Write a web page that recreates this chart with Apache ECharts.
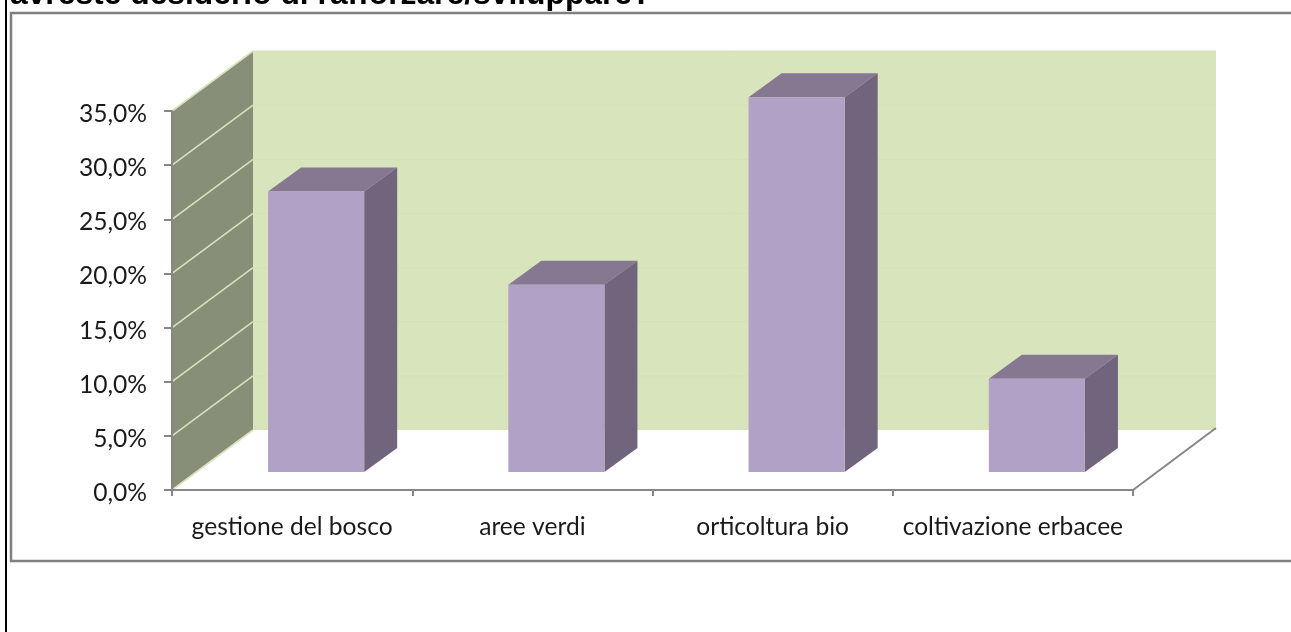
<!DOCTYPE html>
<html>
<head>
<meta charset="utf-8">
<style>html,body{margin:0;padding:0;background:#fff}#c{width:1291px;height:632px}</style>
<script src="https://cdn.jsdelivr.net/npm/echarts@6/dist/echarts.min.js"></script>
</head>
<body>
<div id="c"></div>
<script>
const headingText = "avreste desiderio di rafforzare/sviluppare?";
const categories = ["gestione del bosco", "aree verdi", "orticoltura bio", "coltivazione erbacee"];
const shareValues = [25.9, 17.3, 34.6, 8.6];
const gridValues = [0, 5, 10, 15, 20, 25, 30, 35];

const wallDepth = [81, -60];
const backWallExtra = 2;
const barOffset = [24, -18];
const barDepth = [33, -24];
const barWidthShare = 0.4;
const font = "Lato";

const chart = echarts.init(document.getElementById("c"), null, {renderer: "canvas"});
const poly = (pts, fill, z2) => ({type: "polygon", shape: {points: pts}, style: {fill}, z2: z2 || 0});
const seg = (a, b, stroke, w, z2) => ({type: "line", shape: {x1: a[0], y1: a[1], x2: b[0], y2: b[1]}, style: {stroke, lineWidth: w}, z2: z2 || 1, silent: true});
const shift = (p, d) => [p[0] + d[0], p[1] + d[1]];

function renderWalls(params, api) {
  if (params.dataIndex !== 0) return {type: "group", children: []};
  const cs = params.coordSys;
  const x0 = cs.x, x1 = cs.x + cs.width;
  const y = v => api.coord([0, v])[1];
  const base = y(0), top = y(35);
  const kids = [];
  const wide = [wallDepth[0] + backWallExtra, wallDepth[1]];
  kids.push(poly([shift([x0, top], wallDepth), shift([x1, top], wide), shift([x1, base], wide), shift([x0, base], wallDepth)], "#d7e4bc", 0));
  kids.push(poly([[x0, top], shift([x0, top], wallDepth), shift([x0, base], wallDepth), [x0, base]], "#888f78", 1));
  gridValues.forEach(v => {
    const p = [x0, y(v)], q = shift(p, wallDepth);
    const r = [x1, y(v)];
    kids.push(seg(p, q, "#d6e3bb", 1.6, 2));
    if (v > 0) kids.push(seg(q, shift(r, wide), "#d3e0b8", 1, 1));
  });
  kids.push(seg([x1, base], shift([x1, base], [83, -62]), "#868686", 2, 3));
  return {type: "group", children: kids};
}

function renderBar(params, api) {
  const cat = api.value(0), val = api.value(1);
  const c0 = api.coord([cat, 0]), c1 = api.coord([cat, val]);
  const w = api.size([1, 0])[0] * barWidthShare;
  const bl = shift([c0[0] - w / 2, c0[1]], barOffset);
  const br = shift([c0[0] + w / 2, c0[1]], barOffset);
  const tl = shift([c1[0] - w / 2, c1[1]], barOffset);
  const tr = shift([c1[0] + w / 2, c1[1]], barOffset);
  return {type: "group", children: [
    poly([tl, tr, shift(tr, barDepth), shift(tl, barDepth)], "#867891", 10),
    poly([tr, br, shift(br, barDepth), shift(tr, barDepth)], "#71657e", 10),
    poly([tl, tr, br, bl], "#b2a1c7", 11)
  ]};
}

chart.setOption({
  animation: false,
  backgroundColor: "#fff",
  title: {text: headingText, left: 10, top: -21, padding: 0, textStyle: {fontFamily: "Liberation Sans", fontWeight: "bold", fontSize: 31.8, color: "#000"}},
  grid: {left: 172, right: 158, top: 111, bottom: 142, containLabel: false},
  xAxis: {
    type: "category", data: categories, boundaryGap: true, z: 5,
    axisLine: {lineStyle: {color: "#868686", width: 2}},
    axisTick: {show: true, alignWithLabel: false, length: 6, lineStyle: {color: "#868686", width: 2}},
    axisLabel: {interval: 0, margin: 25, color: "#1a1a1a", fontFamily: font, fontSize: 24.6}
  },
  yAxis: {
    type: "value", min: 0, max: 35, interval: 5, z: 5,
    axisLine: {show: true, lineStyle: {color: "#868686", width: 2}},
    axisTick: {show: true, length: 8, lineStyle: {color: "#868686", width: 2}},
    splitLine: {show: false},
    axisLabel: {
      margin: 25, color: "#1a1a1a", fontFamily: font, fontSize: 24.6,
      formatter: v => "{v|" + v.toFixed(1).replace(".", ",") + "%}",
      rich: {v: {padding: [6, 0, 0, 0], color: "#1a1a1a", fontFamily: font, fontSize: 24.6}}
    }
  },
  series: [
    {type: "custom", renderItem: renderWalls, data: [[0, 0]], z: 1, silent: true, clip: false},
    {type: "custom", renderItem: renderBar, data: shareValues.map((v, i) => [i, v]), encode: {x: 0, y: 1}, z: 3, clip: false}
  ],
  graphic: [
    {type: "line", z: 100, shape: {x1: 6, y1: 0, x2: 6, y2: 632}, style: {stroke: "#000", lineWidth: 2}},
    {type: "polyline", z: 100, shape: {points: [[1291, 13], [11, 13], [11, 561], [1291, 561]]}, style: {stroke: "#808080", lineWidth: 2.5, fill: null}}
  ]
});
</script>
</body>
</html>
